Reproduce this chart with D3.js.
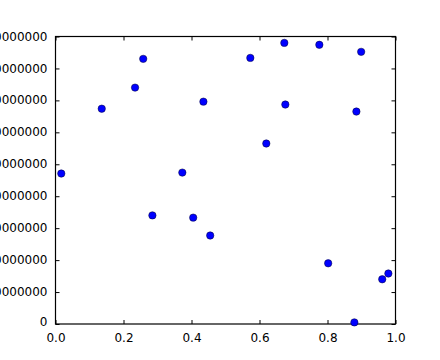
<!DOCTYPE html>
<html>
<head>
<meta charset="utf-8">
<script src="https://cdn.jsdelivr.net/npm/d3@7"></script>
<style>
  html, body { margin: 0; padding: 0; background: #fff; }
  svg { display: block; }
  text { font-family: "DejaVu Sans", sans-serif; font-size: 12px; fill: #000; }
</style>
</head>
<body>
<svg id="chart" width="440" height="360"></svg>
<script>
// Data (x in 0..1, y in units of 1e9)
const xValues = [0.017,0.136,0.234,0.258,0.285,0.373,0.405,0.435,0.455,0.573,0.620,0.673,0.676,0.776,0.802,0.879,0.885,0.899,0.961,0.979];
const yValues = [4.71,6.74,7.40,8.30,3.40,4.74,3.33,6.96,2.77,8.33,5.65,8.80,6.87,8.74,1.90,0.05,6.65,8.52,1.40,1.58].map(v => v * 1e9);
const xTicks = [0, 0.2, 0.4, 0.6, 0.8, 1.0];
const yTicks = [0,1e9,2e9,3e9,4e9,5e9,6e9,7e9,8e9,9e9];

const svg = d3.select("#chart");
const mLeft = 55.5, mRight = 395.5, mTop = 36.5, mBottom = 324;

const x = d3.scaleLinear().domain([0, 1]).range([mLeft, mRight]);
const y = d3.scaleLinear().domain([0, 9e9]).range([mBottom, mTop]);

const tickLen = 4;

// bottom axis (ticks inward)
const xAxisB = d3.axisBottom(x).tickValues(xTicks).tickFormat(d3.format(".1f")).tickSizeInner(-tickLen).tickSizeOuter(0).tickPadding(tickLen + 5);
const gB = svg.append("g").attr("transform", `translate(0,${mBottom})`).call(xAxisB);
// top axis ticks inward, no labels
const xAxisT = d3.axisTop(x).tickValues(xTicks).tickFormat("").tickSizeInner(-tickLen).tickSizeOuter(0);
const gT = svg.append("g").attr("transform", `translate(0,${mTop})`).call(xAxisT);
// left axis
const yAxisL = d3.axisLeft(y).tickValues(yTicks).tickFormat(d3.format("d")).tickSizeInner(-tickLen).tickSizeOuter(0).tickPadding(tickLen + 4);
const gL = svg.append("g").attr("transform", `translate(${mLeft},0)`).call(yAxisL);
// right axis
const yAxisR = d3.axisRight(y).tickValues(yTicks).tickFormat("").tickSizeInner(-tickLen).tickSizeOuter(0);
const gR = svg.append("g").attr("transform", `translate(${mRight},0)`).call(yAxisR);

[gB, gT, gL, gR].forEach(g => {
  g.select(".domain").remove();
  g.selectAll(".tick line").attr("stroke", "#000").attr("stroke-width", 1);
  g.selectAll("text").attr("font-family", "DejaVu Sans, sans-serif").attr("font-size", 12).attr("fill", "#000");
});
gL.selectAll("text").attr("dy", "0.3em");
gL.selectAll(".tick").filter(d => d === 0).select("text").attr("dy", "0.1em");

// Frame
svg.append("rect")
  .attr("x", mLeft).attr("y", mTop)
  .attr("width", mRight - mLeft).attr("height", mBottom - mTop)
  .attr("fill", "none").attr("stroke", "#000").attr("stroke-width", 1.2);

// Points
svg.append("g").selectAll("circle")
  .data(xValues.map((d, i) => [d, yValues[i]]))
  .join("circle")
  .attr("cx", d => x(d[0]))
  .attr("cy", d => y(d[1]))
  .attr("r", 3.7)
  .attr("fill", "#0000ff")
  .attr("stroke", "#000033")
  .attr("stroke-width", 0.5);
</script>
</body>
</html>
